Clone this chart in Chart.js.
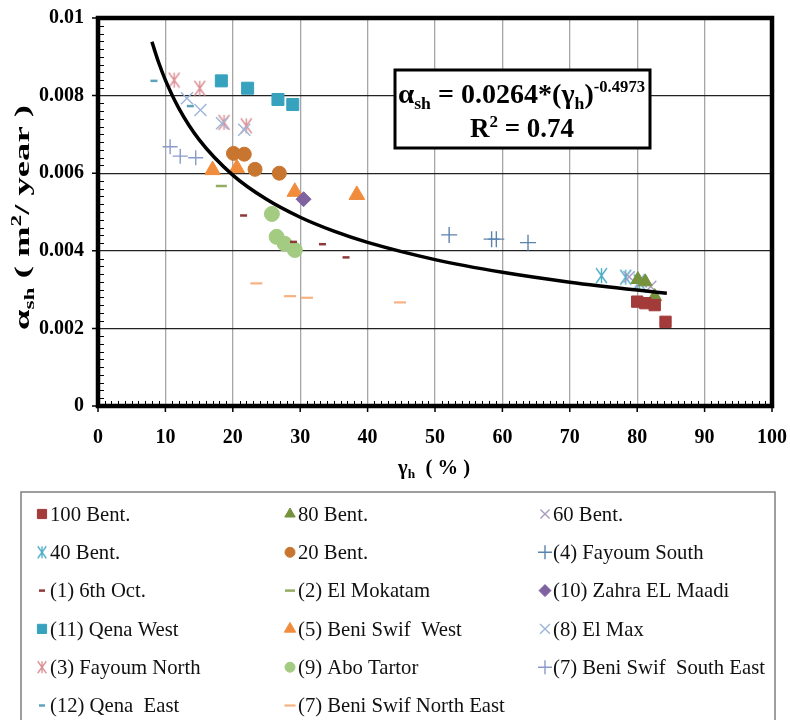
<!DOCTYPE html>
<html><head><meta charset="utf-8">
<script src="https://cdn.jsdelivr.net/npm/chart.js@4.4.1/dist/chart.umd.min.js"></script>
<style>html,body{margin:0;padding:0;background:#fff;}#wrap{width:790px;height:720px;position:relative;}</style>
</head><body><div id="wrap"><canvas id="c" width="790" height="720"></canvas></div>
<script>
// ---------- axis ticks ----------
const xTicks = [0,10,20,30,40,50,60,70,80,90,100];
const xTickLabels = ['0','10','20','30','40','50','60','70','80','90','100'];
const yTicks = [0,0.002,0.004,0.006,0.008,0.01];
const yTickLabels = ['0','0.002','0.004','0.006','0.008','0.01'];

// ---------- series (gamma_h %, alpha_sh m2/year) ----------
const bent100X = [80.0, 81.2, 82.6, 84.2];
const bent100Y = [0.00269, 0.00265, 0.00260, 0.00217];
const bent80X = [80.1, 81.2, 82.6];
const bent80Y = [0.00326, 0.00320, 0.00282];
const bent60X = [78.8, 80.6, 82.0];
const bent60Y = [0.00333, 0.00320, 0.00308];
const bent40X = [74.7, 78.3, 80.3];
const bent40Y = [0.00336, 0.00332, 0.00320];
const bent20X = [20.1, 21.7, 23.3, 26.9];
const bent20Y = [0.00651, 0.00649, 0.00610, 0.00600];
const fayoumSouthX = [52.1, 58.4, 59.1, 63.8];
const fayoumSouthY = [0.00441, 0.00430, 0.00430, 0.00421];
const octX = [21.6, 29.0, 33.3, 36.8];
const octY = [0.00491, 0.00423, 0.00417, 0.00383];
const mokatamX = [18.3];
const mokatamY = [0.00567];
const zahraX = [30.5];
const zahraY = [0.00533];
const qenaWestX = [18.3, 22.2, 26.7, 28.9];
const qenaWestY = [0.00838, 0.00819, 0.00790, 0.00777];
const beniWestX = [17.0, 20.6, 29.2, 38.4];
const beniWestY = [0.00608, 0.00613, 0.00552, 0.00544];
const elMaxX = [13.2, 15.2, 18.4, 21.7];
const elMaxY = [0.00793, 0.00763, 0.00729, 0.00712];
const fayoumNorthX = [11.3, 15.1, 18.7, 22.0];
const fayoumNorthY = [0.00840, 0.00819, 0.00731, 0.00722];
const aboTartorX = [25.8, 26.5, 27.7, 29.2];
const aboTartorY = [0.00495, 0.00436, 0.00418, 0.00402];
const beniSEX = [10.7, 12.2, 14.5];
const beniSEY = [0.00668, 0.00644, 0.00640];
const qenaEastX = [8.3, 13.7];
const qenaEastY = [0.00838, 0.00773];
const beniNEX = [23.5, 28.5, 31.0, 44.8];
const beniNEY = [0.00316, 0.00283, 0.00279, 0.00267];

// power trend line points (alpha = 0.0264 * gamma^-0.4973, as printed on chart)
const trendX = [8, 9, 10, 12, 15, 20, 25, 30, 35, 40, 50, 60, 70, 80, 84.4];
const trendY = [0.009386, 0.008852, 0.008400, 0.007672, 0.006866, 0.005951, 0.005326, 0.004864, 0.004505, 0.004216, 0.003773, 0.003446, 0.003192, 0.002987, 0.002908];

// ---------- marker helpers ----------
function asterisk(color, size, lw) {
  const c = document.createElement('canvas');
  c.width = size; c.height = size;
  const g = c.getContext('2d');
  g.strokeStyle = color; g.lineWidth = lw; g.lineCap = 'butt';
  const h = size / 2, r = size / 2 - 1, d = r * 0.72;
  g.beginPath();
  g.moveTo(h - d, h - r); g.lineTo(h + d, h + r);
  g.moveTo(h + d, h - r); g.lineTo(h - d, h + r);
  g.moveTo(h, h - r); g.lineTo(h, h + r);
  g.stroke();
  return c;
}
const SERIF = "'Liberation Serif','Times New Roman',serif";

const seriesDefs = [
  {label:'100 Bent.', x:bent100X, y:bent100Y, style:'rect', color:'#A33B3A', r:8, bw:1, lr:6.5},
  {label:'80 Bent.', x:bent80X, y:bent80Y, style:'triangle', color:'#76923C', r:8, bw:1, lr:6},
  {label:'60 Bent.', x:bent60X, y:bent60Y, style:'crossRot', color:'#A99BC4', r:8, bw:1.4, lr:6.5},
  {label:'40 Bent.', x:bent40X, y:bent40Y, style:asterisk('#4BACC6',17,1.4), color:'#4BACC6', r:8, bw:1.4, lstyle:asterisk('#4BACC6',14,1.3)},
  {label:'20 Bent.', x:bent20X, y:bent20Y, style:'circle', color:'#C8762F', r:7, bw:1, lr:5},
  {label:'(4) Fayoum South', x:fayoumSouthX, y:fayoumSouthY, style:'cross', color:'#5A83B0', r:8, bw:1.4, lr:7},
  {label:'(1) 6th Oct.', x:octX, y:octY, style:'line', color:'#8E3A3A', r:3.5, bw:2.5, lr:3},
  {label:'(2) El Mokatam', x:mokatamX, y:mokatamY, style:'line', color:'#93AD64', r:5.5, bw:2.5, lr:5},
  {label:'(10) Zahra EL Maadi', x:zahraX, y:zahraY, style:'rectRot', color:'#7F63A1', r:7.5, bw:1, lr:6},
  {label:'(11) Qena West', x:qenaWestX, y:qenaWestY, style:'rect', color:'#37A2BD', r:8.5, bw:1, lr:6.5},
  {label:'(5) Beni Swif  West', x:beniWestX, y:beniWestY, style:'triangle', color:'#F08C3C', r:9, bw:1, lr:6.5},
  {label:'(8) El Max', x:elMaxX, y:elMaxY, style:'crossRot', color:'#9BB6DA', r:8.5, bw:1.4, lr:7},
  {label:'(3) Fayoum North', x:fayoumNorthX, y:fayoumNorthY, style:asterisk('#DA8D93',17,1.4), color:'#DA8D93', r:8, bw:1.4, lstyle:asterisk('#DA8D93',14,1.3)},
  {label:'(9) Abo Tartor', x:aboTartorX, y:aboTartorY, style:'circle', color:'#A4CB82', r:7.5, bw:1, lr:5},
  {label:'(7) Beni Swif  South East', x:beniSEX, y:beniSEY, style:'cross', color:'#8A9BCB', r:7.5, bw:1.4, lr:7},
  {label:'(12) Qena  East', x:qenaEastX, y:qenaEastY, style:'line', color:'#5FA3BA', r:3.5, bw:2.5, lr:3},
  {label:'(7) Beni Swif North East', x:beniNEX, y:beniNEY, style:'line', color:'#F6B283', r:6, bw:2.2, lr:5.5}
];

const datasets = seriesDefs.map(s => ({
  label: s.label,
  data: s.x.map((v, i) => ({x: v, y: s.y[i]})),
  pointStyle: s.style,
  pointRadius: s.r,
  pointHoverRadius: s.r,
  pointBackgroundColor: s.color,
  pointBorderColor: s.color,
  pointBorderWidth: s.bw,
  showLine: false,
  order: 1
}));
datasets.push({
  label: 'trend',
  data: trendX.map((v, i) => ({x: v, y: trendY[i]})),
  showLine: true,
  borderColor: '#000',
  borderWidth: 3.5,
  pointRadius: 0,
  cubicInterpolationMode: 'monotone',
  fill: false,
  order: 0
});

// rich-text helper: segments [{t, size, dy}]
function richWidth(ctx, segs) {
  let w = 0;
  segs.forEach(s => { ctx.font = 'bold ' + s.size + 'px ' + SERIF; w += ctx.measureText(s.t).width; });
  return w;
}
function drawRich(ctx, segs, x, y, targetW) {
  const w = richWidth(ctx, segs);
  const k = targetW ? targetW / w : 1;
  ctx.save();
  ctx.translate(x, y);
  ctx.scale(k, 1);
  let cx = 0;
  segs.forEach(s => {
    ctx.font = 'bold ' + s.size + 'px ' + SERIF;
    ctx.fillText(s.t, cx, s.dy || 0);
    cx += ctx.measureText(s.t).width;
  });
  ctx.restore();
}

const decor = {
  id: 'decor',
  afterDraw(chart) {
    const ctx = chart.ctx, a = chart.chartArea;
    const xs = chart.scales.x, ys = chart.scales.y;
    ctx.save();
    ctx.strokeStyle = '#000';
    // minor ticks (inside)
    ctx.lineWidth = 1;
    ctx.beginPath();
    for (let v = 1; v < 100; v++) {
      if (v % 10 === 0) continue;
      const px = Math.round(xs.getPixelForValue(v)) + 0.5;
      ctx.moveTo(px, a.bottom); ctx.lineTo(px, a.bottom - 5);
    }
    for (let k = 1; k < 50; k++) {
      if (k % 10 === 0) continue;
      const py = Math.round(ys.getPixelForValue(k * 0.0002)) + 0.5;
      ctx.moveTo(a.left, py); ctx.lineTo(a.left + 6, py);
    }
    ctx.stroke();
    // major ticks (outside)
    ctx.lineWidth = 1.5;
    ctx.beginPath();
    xTicks.forEach(v => { const px = xs.getPixelForValue(v); ctx.moveTo(px, a.bottom); ctx.lineTo(px, a.bottom + 6); });
    yTicks.forEach(v => { const py = ys.getPixelForValue(v); ctx.moveTo(a.left, py); ctx.lineTo(a.left - 6, py); });
    ctx.stroke();
    // frame
    ctx.lineWidth = 4.5;
    ctx.strokeRect(a.left, a.top, a.right - a.left, a.bottom - a.top);

    // equation box
    ctx.fillStyle = '#fff';
    ctx.fillRect(395, 70, 255, 78);
    ctx.lineWidth = 3;
    ctx.strokeRect(395, 70, 255, 78);
    ctx.fillStyle = '#000';
    ctx.textBaseline = 'alphabetic';
    ctx.textAlign = 'left';
    drawRich(ctx, [
      {t:'\u03B1', size:28}, {t:'sh', size:17, dy:6}, {t:' = 0.0264*(', size:27},
      {t:'\u03B3', size:27}, {t:'h', size:17, dy:6}, {t:')', size:27}, {t:'-0.4973', size:16, dy:-11}
    ], 398, 103, 247);
    drawRich(ctx, [{t:'R', size:27}, {t:'2', size:17, dy:-10}, {t:' = 0.74', size:27}], 470, 137, 104);

    // axis titles
    drawRich(ctx, [{t:'\u03B3', size:20}, {t:'h', size:13, dy:4}, {t:'  ( % )', size:20}], 398, 474, 72);
    ctx.save();
    ctx.translate(29, 330);
    ctx.rotate(-Math.PI / 2);
    drawRich(ctx, [{t:'\u03B1', size:22}, {t:'sh', size:14, dy:5}, {t:' ( m', size:22}, {t:'2', size:14, dy:-8}, {t:'/ year )', size:22}], 0, 0, 225);
    ctx.restore();

    // legend
    ctx.lineWidth = 1.5;
    ctx.strokeStyle = '#7F7F7F';
    ctx.strokeRect(21, 492, 754, 240);
    const colM = [42, 290, 545], colT = [50, 298, 553];
    ctx.textBaseline = 'middle';
    seriesDefs.forEach((s, i) => {
      const col = i % 3, row = Math.floor(i / 3);
      const yy = 514 + row * 38.3;
      ctx.fillStyle = s.color; ctx.strokeStyle = s.color;
      const opts = {pointStyle: s.lstyle || s.style, radius: s.lr || 6, borderWidth: s.bw, rotation: 0};
      ctx.lineWidth = s.bw;
      if (Chart.helpers && Chart.helpers.drawPoint) {
        Chart.helpers.drawPoint(ctx, opts, colM[col], yy);
      }
      ctx.fillStyle = '#111';
      ctx.save();
      ctx.translate(colT[col], yy + 1);
      ctx.scale(0.94, 1);
      ctx.font = '22px ' + SERIF;
      ctx.fillText(s.label, 0, 0);
      ctx.restore();
    });
    ctx.restore();
  }
};

new Chart(document.getElementById('c'), {
  type: 'scatter',
  data: {datasets},
  plugins: [decor],
  options: {
    responsive: false,
    animation: false,
    devicePixelRatio: 1,
    layout: {padding: {left: 0, right: 18, top: 18, bottom: 254}},
    plugins: {legend: {display: false}, tooltip: {enabled: false}, title: {display: false}},
    scales: {
      x: {
        type: 'linear', min: 0, max: 100,
        afterBuildTicks: s => { s.ticks = xTicks.map(v => ({value: v})); },
        afterFit: s => { s.height = 60; s.paddingLeft = 0; s.paddingRight = 0; },
        ticks: {callback: (v, i) => xTickLabels[i], color: '#000', padding: 20, maxRotation: 0,
                font: {family: SERIF, size: 20, weight: 'bold'}},
        grid: {color: '#A6A6A6', lineWidth: 1.3, drawTicks: false},
        border: {display: false}
      },
      y: {
        type: 'linear', min: 0, max: 0.01,
        afterBuildTicks: s => { s.ticks = yTicks.map(v => ({value: v})); },
        afterFit: s => { s.width = 98; s.paddingTop = 0; s.paddingBottom = 0; },
        ticks: {callback: (v, i) => yTickLabels[i], color: '#000', padding: 14,
                font: {family: SERIF, size: 20, weight: 'bold'}},
        grid: {color: '#222', lineWidth: 1.2, drawTicks: false},
        border: {display: false}
      }
    }
  }
});
</script></body></html>
